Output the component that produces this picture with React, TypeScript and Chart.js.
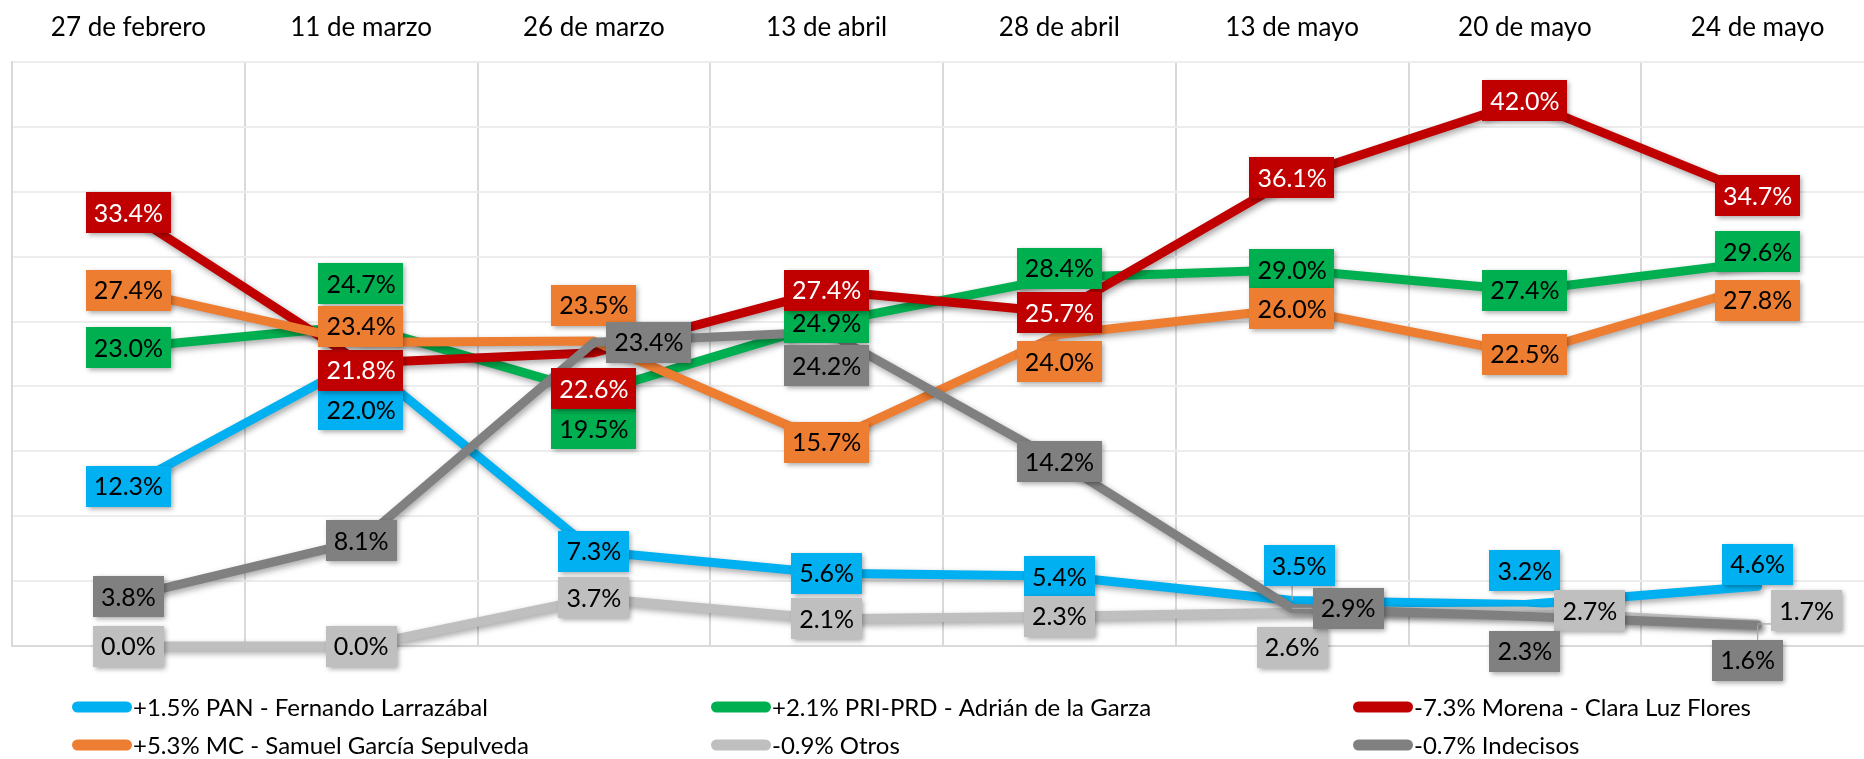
import React, { useEffect, useRef } from "react";
import { Chart, registerables } from "chart.js";

Chart.register(...registerables);

// ---------- data ----------
const categories = [
  "27 de febrero",
  "11 de marzo",
  "26 de marzo",
  "13 de abril",
  "28 de abril",
  "13 de mayo",
  "20 de mayo",
  "24 de mayo",
];

const seriesLabels = [
  "+1.5% PAN - Fernando Larrazábal",
  "+2.1% PRI-PRD - Adrián de la Garza",
  "-7.3% Morena - Clara Luz Flores",
  "+5.3% MC - Samuel García Sepulveda",
  "-0.9% Otros",
  "-0.7% Indecisos",
];

const panValues = [12.3, 22.0, 7.3, 5.6, 5.4, 3.5, 3.2, 4.6];
const priValues = [23.0, 24.7, 19.5, 24.9, 28.4, 29.0, 27.4, 29.6];
const morenaValues = [33.4, 21.8, 22.6, 27.4, 25.7, 36.1, 42.0, 34.7];
const mcValues = [27.4, 23.4, 23.5, 15.7, 24.0, 26.0, 22.5, 27.8];
const otrosValues = [0.0, 0.0, 3.7, 2.1, 2.3, 2.6, 2.7, 1.7];
const indecisosValues = [3.8, 8.1, 23.4, 24.2, 14.2, 2.9, 2.3, 1.6];

const yMin = 0;
const yMax = 45;
const yStep = 5;

// ---------- styling ----------
const seriesColors = ["#00B0F0", "#00B050", "#C00000", "#ED7D31", "#BFBFBF", "#808080"];
const labelTextColors = ["#000000", "#000000", "#FFFFFF", "#000000", "#000000", "#000000"];

// data-label placement (pixel offsets from each point)
const labelOffsets: number[][][] = [
  [[0, 0], [0, 49], [0, 0], [0, 0], [0, 1], [7, -35], [0, -34], [0, -22]],
  [[0, 0], [0, -42], [0, 36], [0, 0], [0, -9], [0, 0], [0, 0], [0, -10]],
  [[0, 0], [0, 7], [0, 36], [0, 0], [0, 0], [0, 0], [0, 0], [0, 0]],
  [[0, 0], [0, -16], [0, -36], [0, 0], [0, 27], [0, 0], [0, 0], [0, 15]],
  [[0, 0], [0, 0], [0, 0], [0, 0], [0, 0], [0, 35], [65, 0], [49, -13]],
  [[0, 0], [0, 0], [55, 0], [0, 34], [0, 0], [56, 0], [0, 35], [-10, 35]],
];
const leaderKeys = ["0-5", "5-5", "4-6", "4-7", "5-7"];

const FONT_FAMILY = "Lato, 'Open Sans', sans-serif";

const lineShadowPlugin = {
  id: "lineShadow",
  beforeDatasetsDraw(chart: any) {
    const ctx = chart.ctx;
    ctx.save();
    ctx.shadowColor = "rgba(0,0,0,0.35)";
    ctx.shadowBlur = 6;
    ctx.shadowOffsetX = 2;
    ctx.shadowOffsetY = 3;
  },
  afterDatasetsDraw(chart: any) {
    chart.ctx.restore();
  },
};

const dataLabelPlugin = {
  id: "boxLabels",
  afterDraw(chart: any) {
    const ctx = chart.ctx;
    const boxH = 41;
    const padX = 8;
    ctx.save();
    ctx.font = `25px ${FONT_FAMILY}`;
    ctx.textAlign = "center";
    ctx.textBaseline = "middle";
    chart.data.datasets.forEach((ds: any, i: number) => {
      const meta = chart.getDatasetMeta(i);
      meta.data.forEach((pt: any, j: number) => {
        if (!leaderKeys.includes(`${i}-${j}`)) return;
        const [dx, dy] = labelOffsets[i][j];
        const text = ds.data[j].toFixed(1) + "%";
        const w = ctx.measureText(text).width + padX * 2;
        const cx = pt.x + dx;
        const cy = pt.y + dy;
        const ex = Math.max(cx - w / 2, Math.min(pt.x, cx + w / 2));
        const ey = Math.max(cy - boxH / 2, Math.min(pt.y, cy + boxH / 2));
        ctx.strokeStyle = "#A6A6A6";
        ctx.lineWidth = 1.2;
        ctx.beginPath();
        ctx.moveTo(pt.x, pt.y);
        ctx.lineTo(ex, ey);
        ctx.stroke();
      });
    });
    chart.data.datasets.forEach((ds: any, i: number) => {
      const meta = chart.getDatasetMeta(i);
      meta.data.forEach((pt: any, j: number) => {
        const [dx, dy] = labelOffsets[i][j];
        const text = ds.data[j].toFixed(1) + "%";
        const tw = ctx.measureText(text).width;
        const w = tw + padX * 2;
        const cx = pt.x + dx;
        const cy = pt.y + dy;
        ctx.save();
        ctx.shadowColor = "rgba(0,0,0,0.35)";
        ctx.shadowBlur = 5;
        ctx.shadowOffsetX = 1.5;
        ctx.shadowOffsetY = 2;
        ctx.fillStyle = seriesColors[i];
        ctx.fillRect(Math.round(cx - w / 2), Math.round(cy - boxH / 2), Math.round(w), boxH);
        ctx.restore();
        ctx.fillStyle = labelTextColors[i];
        ctx.fillText(text, cx, cy + 1);
      });
    });
    ctx.restore();
  },
};

const legendPlugin = {
  id: "gridLegend",
  afterDraw(chart: any) {
    const opts = chart.options.plugins.gridLegend;
    const ctx = chart.ctx;
    ctx.save();
    ctx.font = `24px ${FONT_FAMILY}`;
    ctx.textBaseline = "middle";
    ctx.textAlign = "left";
    chart.data.datasets.forEach((ds: any, i: number) => {
      const col = i % 3;
      const row = Math.floor(i / 3);
      const x = opts.columns[col];
      const y = opts.rows[row];
      ctx.strokeStyle = ds.borderColor;
      ctx.lineWidth = opts.lineWidth;
      ctx.lineCap = "round";
      ctx.beginPath();
      ctx.moveTo(x + opts.lineWidth / 2, y);
      ctx.lineTo(x + opts.swatchWidth - opts.lineWidth / 2, y);
      ctx.stroke();
      ctx.fillStyle = "#000000";
      ctx.fillText(ds.label, x + opts.swatchWidth + 1, y + 1);
    });
    ctx.restore();
  },
};

export default function App() {
  const canvasRef = useRef<HTMLCanvasElement | null>(null);

  useEffect(() => {
    let chart: Chart | null = null;
    let cancelled = false;
    const build = () => {
      if (cancelled || !canvasRef.current) return;
      const valueSets = [panValues, priValues, morenaValues, mcValues, otrosValues, indecisosValues];
      chart = new Chart(canvasRef.current, {
        type: "line",
        data: {
          labels: categories,
          datasets: valueSets.map((vals, i) => ({
            label: seriesLabels[i],
            data: vals,
            borderColor: seriesColors[i],
            backgroundColor: seriesColors[i],
            borderWidth: 9,
            pointRadius: 0,
            pointHoverRadius: 0,
            tension: 0,
            fill: false,
            borderJoinStyle: "round",
            borderCapStyle: "round",
            clip: false,
            order: valueSets.length - i,
          })),
        },
        options: {
          responsive: false,
          animation: false,
          events: [],
          layout: { padding: { left: 12, right: 6, top: 0, bottom: 113 } },
          plugins: {
            legend: { display: false },
            tooltip: { enabled: false },
            gridLegend: {
              columns: [72, 711, 1353],
              rows: [707, 745],
              swatchWidth: 60,
              lineWidth: 11,
            },
          } as any,
          scales: {
            x: {
              type: "category",
              position: "top",
              offset: true,
              grid: {
                offset: true,
                color: "#D9D9D9",
                lineWidth: 2,
                drawTicks: false,
              },
              border: { display: true, color: "#EDEDED", width: 2 },
              ticks: {
                color: "#000000",
                font: { family: FONT_FAMILY, size: 26 },
                padding: 19,
                maxRotation: 0,
                autoSkip: false,
              },
              afterFit: (scale: any) => {
                scale.height = 62;
              },
            },
            y: {
              min: yMin,
              max: yMax,
              ticks: { stepSize: yStep, display: false },
              grid: {
                color: (c: any) => (c.tick && c.tick.value === 0 ? "#D9D9D9" : "#EDEDED"),
                lineWidth: 2,
                drawTicks: false,
              },
              border: { display: true, color: "#D9D9D9", width: 2 },
              afterFit: (scale: any) => {
                scale.width = 0;
              },
            },
          },
        } as any,
        plugins: [lineShadowPlugin, dataLabelPlugin, legendPlugin],
      });
    };
    const fontsReady = (document as any).fonts
      ? Promise.all([
          (document as any).fonts.load(`24px Lato`),
          (document as any).fonts.load(`26px Lato`),
        ]).catch(() => null)
      : Promise.resolve(null);
    fontsReady.then(build);
    return () => {
      cancelled = true;
      if (chart) chart.destroy();
    };
  }, []);

  return (
    <div
      style={{
        position: "fixed",
        left: 0,
        top: 0,
        width: "1864px",
        height: "759px",
        overflow: "hidden",
        background: "#FFFFFF",
      }}
    >
      <canvas
        ref={canvasRef}
        width={1880}
        height={759}
        style={{ width: "1880px", height: "759px", display: "block" }}
      />
    </div>
  );
}
